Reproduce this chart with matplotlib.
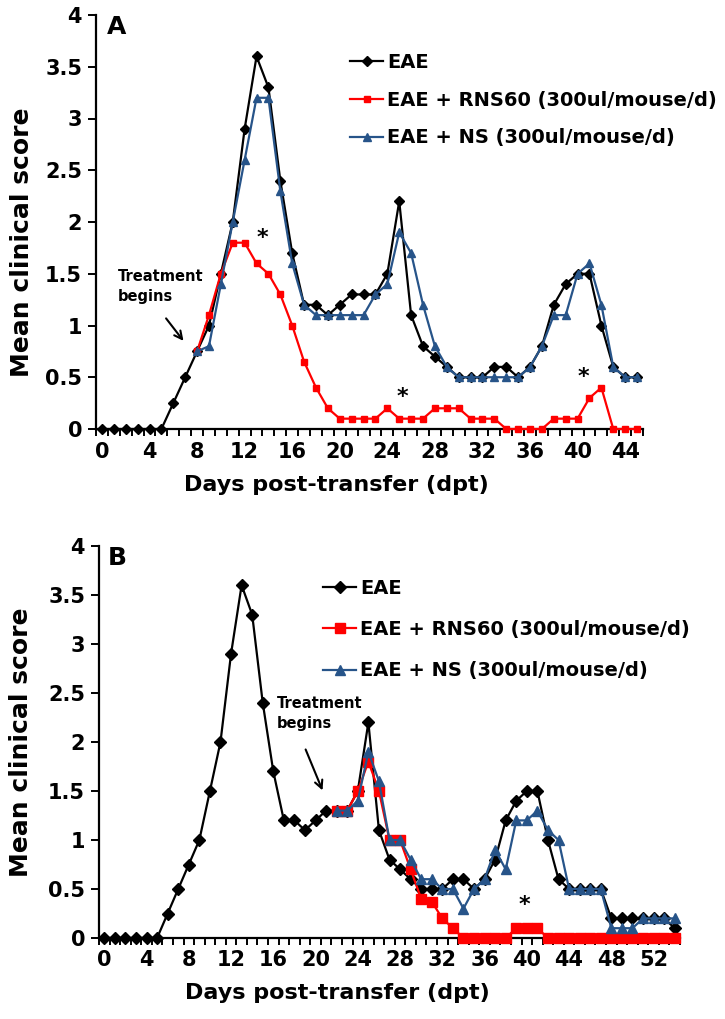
import numpy as np
import matplotlib
matplotlib.use("Agg")
import matplotlib.pyplot as plt
from matplotlib.lines import Line2D

plt.rcParams['font.family'] = ['DejaVu Sans']
plt.rcParams['font.weight'] = 'bold'

nan = np.nan

# ---------------- Panel A data (days 0..45) ----------------
days_a = list(range(0, 46))
eae_a = [0, 0, 0, 0, 0, 0, 0.25, 0.5, 0.75, 1.0, 1.5, 2.0, 2.9, 3.6, 3.3, 2.4,
         1.7, 1.2, 1.2, 1.1, 1.2, 1.3, 1.3, 1.3, 1.5, 2.2, 1.1, 0.8, 0.7, 0.6,
         0.5, 0.5, 0.5, 0.6, 0.6, 0.5, 0.6, 0.8, 1.2, 1.4, 1.5, 1.5, 1.0, 0.6,
         0.5, 0.5]
rns_a = [nan] * 8 + [0.75, 1.1, 1.5, 1.8, 1.8, 1.6, 1.5, 1.3, 1.0, 0.65, 0.4,
                     0.2, 0.1, 0.1, 0.1, 0.1, 0.2, 0.1, 0.1, 0.1, 0.2, 0.2,
                     0.2, 0.1, 0.1, 0.1, 0, 0, 0, 0, 0.1, 0.1, 0.1, 0.3, 0.4,
                     0, 0, 0]
ns_a = [nan] * 8 + [0.75, 0.8, 1.4, 2.0, 2.6, 3.2, 3.2, 2.3, 1.6, 1.2, 1.1,
                    1.1, 1.1, 1.1, 1.1, 1.3, 1.4, 1.9, 1.7, 1.2, 0.8, 0.6,
                    0.5, 0.5, 0.5, 0.5, 0.5, 0.5, 0.6, 0.8, 1.1, 1.1, 1.5, 1.6,
                    1.2, 0.6, 0.5, 0.5]
xticks_a = list(range(0, 45, 4))

# ---------------- Panel B data (days 0..54) ----------------
days_b = list(range(0, 55))
eae_b = [0, 0, 0, 0, 0, 0, 0.25, 0.5, 0.75, 1.0, 1.5, 2.0, 2.9, 3.6, 3.3, 2.4,
         1.7, 1.2, 1.2, 1.1, 1.2, 1.3, 1.3, 1.3, 1.5, 2.2, 1.1, 0.8, 0.7, 0.6,
         0.5, 0.5, 0.5, 0.6, 0.6, 0.5, 0.6, 0.8, 1.2, 1.4, 1.5, 1.5, 1.0, 0.6,
         0.5, 0.5, 0.5, 0.5, 0.2, 0.2, 0.2, 0.2, 0.2, 0.2, 0.1]
rns_b = [nan] * 22 + [1.3, 1.3, 1.5, 1.8, 1.5, 1.0, 1.0, 0.7, 0.4, 0.37, 0.2,
                      0.1, 0, 0, 0, 0, 0, 0.1, 0.1, 0.1, 0, 0, 0, 0, 0, 0, 0,
                      0, 0, 0, 0, 0, 0]
ns_b = [nan] * 22 + [1.3, 1.3, 1.4, 1.9, 1.6, 1.0, 1.0, 0.8, 0.6, 0.6, 0.5,
                     0.5, 0.3, 0.5, 0.6, 0.9, 0.7, 1.2, 1.2, 1.3, 1.1, 1.0, 0.5,
                     0.5, 0.5, 0.5, 0.1, 0.1, 0.1, 0.2, 0.2, 0.2, 0.2]
xticks_b = list(range(0, 54, 4))

labels = ["EAE", "EAE + RNS60 (300ul/mouse/d)", "EAE + NS (300ul/mouse/d)"]
c_black = "#000000"
c_red = "#FF0000"
c_blue = "#275489"

W, H = 725, 1019
fig = plt.figure(figsize=(W / 100, H / 100), dpi=100)


def px_axes(x0, x1, ytop, ybot):
    return fig.add_axes([x0 / W, 1 - ybot / H, (x1 - x0) / W, (ybot - ytop) / H])


def style_axes(ax, ndays, xt, xlab_pos, ylab_pos):
    ax.set_xlim(-0.5, ndays - 0.5)
    ax.set_ylim(0, 4)
    for s in ("top", "right"):
        ax.spines[s].set_visible(False)
    for s in ("left", "bottom"):
        ax.spines[s].set_linewidth(1.6)
    ax.set_yticks(np.arange(0, 4.01, 0.5))
    ax.set_yticklabels(["0", "0.5", "1", "1.5", "2", "2.5", "3", "3.5", "4"])
    ax.set_xticks(xt)
    ax.set_xticklabels([str(v) for v in xt])
    ax.set_xticks(np.arange(-0.5, ndays, 1), minor=True)
    ax.tick_params(axis="x", which="major", length=0, pad=9, labelsize=15)
    ax.tick_params(axis="x", which="minor", length=5, width=1.4, direction="out")
    ax.tick_params(axis="y", which="major", length=6, width=1.4, direction="out",
                   pad=4, labelsize=15)
    ax.set_xlabel("Days post-transfer (dpt)", fontsize=16, fontweight="bold")
    ax.set_ylabel("Mean clinical score", fontsize=18, fontweight="bold")
    ax.xaxis.set_label_coords(*xlab_pos)
    ax.yaxis.set_label_coords(*ylab_pos)


# ---------------- Panel A ----------------
axA = px_axes(96, 643, 15, 429)
style_axes(axA, 46, xticks_a, (0.44, -0.11), (-0.114, 0.45))
axA.plot(days_a, eae_a, color=c_black, lw=1.6, marker="D", ms=4.8, clip_on=False, zorder=3)
axA.plot(days_a, rns_a, color=c_red, lw=1.6, marker="s", ms=5, clip_on=False, zorder=4)
axA.plot(days_a, ns_a, color=c_blue, lw=1.6, marker="^", ms=6, clip_on=False, zorder=5)
axA.text(0.02, 1.0, "A", transform=axA.transAxes, fontsize=18, fontweight="bold",
         va="top", ha="left")
axA.text(1.3, 1.38, "Treatment\nbegins", fontsize=10.5, fontweight="bold",
         ha="left", va="center", linespacing=1.4)
axA.annotate("", xy=(7.0, 0.83), xytext=(5.25, 1.09),
             arrowprops=dict(arrowstyle="->", lw=1.5, color="black", mutation_scale=14))
for (dx, dy) in [(13.5, 1.85), (25.3, 0.31), (40.5, 0.5)]:
    axA.text(dx, dy, "*", fontsize=16, fontweight="bold", ha="center", va="center")

h_a = [Line2D([], [], color=c_black, lw=1.6, marker="D", ms=4.8),
       Line2D([], [], color=c_red, lw=1.6, marker="s", ms=5),
       Line2D([], [], color=c_blue, lw=1.6, marker="^", ms=6)]
fig.legend(h_a, labels, loc="upper left", bbox_to_anchor=(350 / W, 1 - 53 / H),
           frameon=False, prop=dict(size=14, weight="bold"), handlelength=1.7,
           handletextpad=0.2, labelspacing=0.96, borderpad=0, borderaxespad=0)

# ---------------- Panel B ----------------
axB = px_axes(99, 680, 546, 938)
style_axes(axB, 55, xticks_b, (0.41, -0.115), (-0.113, 0.5))
axB.plot(days_b, eae_b, color=c_black, lw=1.6, marker="D", ms=6.5, clip_on=False, zorder=3)
axB.plot(days_b, rns_b, color=c_red, lw=1.6, marker="s", ms=7.5, clip_on=False, zorder=4)
axB.plot(days_b, ns_b, color=c_blue, lw=1.6, marker="^", ms=7, clip_on=False, zorder=5)
axB.text(0.015, 1.0, "B", transform=axB.transAxes, fontsize=18, fontweight="bold",
         va="top", ha="left")
axB.text(16.3, 2.29, "Treatment\nbegins", fontsize=10.5, fontweight="bold",
         ha="left", va="center", linespacing=1.4)
axB.annotate("", xy=(20.76, 1.48), xytext=(18.96, 1.95),
             arrowprops=dict(arrowstyle="->", lw=1.5, color="black", mutation_scale=14))
axB.text(39.8, 0.34, "*", fontsize=16, fontweight="bold", ha="center", va="center")

h_b = [Line2D([], [], color=c_black, lw=1.6, marker="D", ms=6.5),
       Line2D([], [], color=c_red, lw=1.6, marker="s", ms=7.5),
       Line2D([], [], color=c_blue, lw=1.6, marker="^", ms=7)]
fig.legend(h_b, labels, loc="upper left", bbox_to_anchor=(323 / W, 1 - 579 / H),
           frameon=False, prop=dict(size=14, weight="bold"), handlelength=1.7,
           handletextpad=0.2, labelspacing=1.14, borderpad=0, borderaxespad=0)

fig.savefig("out.png", dpi=100)
